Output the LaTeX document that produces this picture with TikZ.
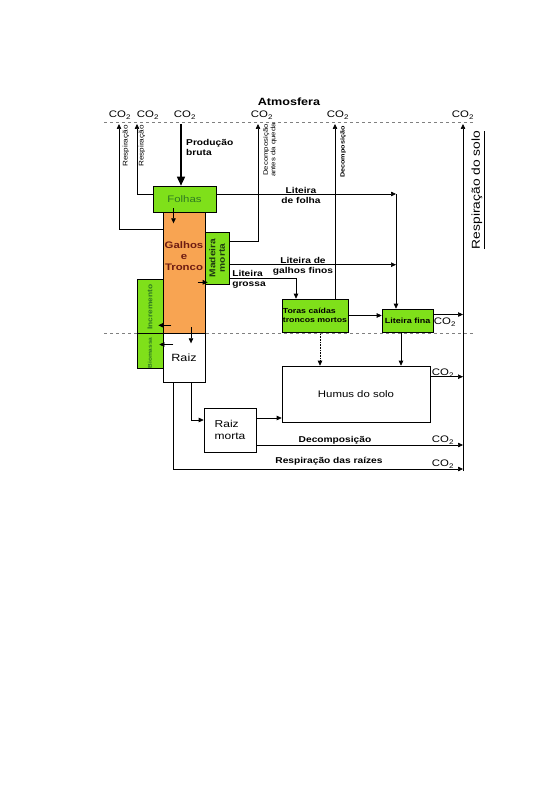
\documentclass[tikz,border=0pt]{standalone}
\usepackage{fontspec}
\setmainfont{Liberation Sans}[FakeStretch=1.2]
\usetikzlibrary{arrows.meta,positioning}
\definecolor{leafgreen}{HTML}{7FE01A}
\definecolor{barkorange}{HTML}{F8A452}
\definecolor{leaftext}{HTML}{2F7A22}
\definecolor{barktext}{HTML}{6E1C12}
\definecolor{woodtext}{HTML}{1E3A12}
\newcommand{\cotwo}{CO\textsubscript{2}}

\begin{document}
\begin{tikzpicture}[x=1pt,y=-1pt,
  pool/.style={draw, line width=0.6pt, inner sep=0pt},
  leafpool/.style={pool, fill=leafgreen},
  flow/.style={-{Triangle[length=5pt,width=4.5pt]}, line width=0.6pt},
  bigflow/.style={-{Triangle[length=9pt,width=8pt]}, line width=1.6pt},
  flux/.style={font=\bfseries\fontsize{8.5}{10}\selectfont, align=center, inner sep=0pt},
  vflux/.style={rotate=90, font=\fontsize{6.8}{7.5}\selectfont, align=center, inner sep=0pt},
  gas/.style={font=\fontsize{9.5}{9.5}\selectfont, inner sep=0pt},
  layer/.style={gray, dashed, line width=0.5pt}]
\useasboundingbox (0,0) rectangle (559,794);
% layers
\draw[layer] (104,122) -- (475,122);
\draw[layer] (104,333) -- (475,333);
\node[flux, font=\bfseries\fontsize{10.5}{11}\selectfont] (atm) at (289,102) {Atmosfera};
\foreach \n/\x/\tx in {a/120/119, b/148/137, c/185/181, d/262/258, e/338/335, f/463/463}{
  \node[gas] (co2\n) at (\x,115) {\cotwo};
  \coordinate (tip\n) at (\tx,124);
}
\coordinate (soilfoot) at (463,471);
\coordinate (join) at (396,194);
% pools
\node[leafpool, minimum width=63pt, minimum height=26pt, text=leaftext, font=\fontsize{9.5}{9.5}\selectfont] (folhas) at (184.5,199) {Folhas};
\node[pool, fill=barkorange, minimum width=42pt, minimum height=121pt] (galhos) at (184,272.5) {};
\node[flux, text=barktext, font=\bfseries\fontsize{9.5}{11}\selectfont] (galhostxt) at (184,256) {Galhos\\e\\Tronco};
\node[leafpool, minimum width=24pt, minimum height=52pt] (madeira) at (217,258) {};
\node[vflux, text=woodtext, font=\bfseries\fontsize{8.5}{9.5}\selectfont] (madeiratxt) at (madeira) {Madeira\\morta};
\node[leafpool, minimum width=26pt, minimum height=54pt] (incremento) at (150,306) {};
\node[vflux, text=leaftext, font=\bfseries\fontsize{7}{7}\selectfont] (incrementotxt) at (150,307) {Incremento};
\node[leafpool, minimum width=26pt, minimum height=35pt] (biomassa) at (150,350.5) {};
\node[vflux, text=leaftext, font=\bfseries\fontsize{5.5}{6}\selectfont] (biomassatxt) at (150,353) {Biomassa};
\node[pool, fill=white, minimum width=42pt, minimum height=49pt, font=\fontsize{10.5}{11}\selectfont] (raiz) at (184,357.5) {Raiz};
\node[leafpool, minimum width=66pt, minimum height=33pt, align=left, font=\bfseries\fontsize{7.3}{9}\selectfont] (toras) at (315,315.5) {Toras caídas\\troncos mortos};
\node[leafpool, minimum width=51pt, minimum height=23pt, font=\bfseries\fontsize{7.5}{8}\selectfont] (litfina) at (407.5,320.5) {Liteira fina};
\node[pool, minimum width=148pt, minimum height=56pt, font=\fontsize{9.5}{10}\selectfont] (humus) at (356,394) {Humus do solo};
\node[pool, minimum width=52pt, minimum height=44pt, align=left, font=\fontsize{10}{12}\selectfont] (raizmorta) at (230,430) {Raiz\\morta};
% fluxes to the atmosphere
\draw[flow] ([yshift=-18pt]galhos.north west) -| (tipa);
\draw[flow] ([yshift=5pt]folhas.west) -| (tipb);
\draw[bigflow] (tipc) -- (tipc |- folhas.north);
\draw[flow] ([yshift=-10pt]madeira.north east) -| (tipd);
\draw[flow] (tipe |- toras.north) -- (tipe);
\draw[flow] (soilfoot) -- (tipf);
\node[vflux] (resp1) at (126,146) {Respiração};
\node[vflux] (resp2) at (142,146) {Respiração};
\node[flux, align=left, anchor=west] (prod) at (186,147) {Produção\\bruta};
\node[vflux, font=\fontsize{6.5}{7.5}\selectfont] (decq) at (270,150) {Decomposição\\antes da queda};
\node[vflux, font=\bfseries\fontsize{6}{7}\selectfont] (dectoras) at (343,152) {Decomposição};
\node[rotate=90, inner sep=0pt, font=\fontsize{11.5}{12}\selectfont] (solo) at (478,190) {\underline{Respiração do solo}};
% internal transfers
\draw[flow] ([xshift=-11pt,yshift=4pt]folhas.south) -- ++(0,15);
\draw[flow] ([xshift=-7pt,yshift=2pt]madeira.south west) -- ([xshift=3pt,yshift=2pt]madeira.south west);
\draw[flow] ([xshift=8pt,yshift=8pt]incremento.south east) -- ++(-13,0);
\draw[flow] ([xshift=10pt,yshift=6pt]biomassa.east) -- ++(-14,0);
\draw[flow] ([xshift=7pt,yshift=6pt]galhos.south) -- ++(0,16);
\draw[flow] ([yshift=5pt]folhas.east) -- ([yshift=5pt]folhas.east -| join);
\draw[flow] ([yshift=-33pt]madeira.north east) -- ([yshift=-33pt]madeira.north east -| join);
\draw[flow] (join) -- (join |- litfina.north);
\draw[flow] ([yshift=6pt]madeira.south east) -| ([xshift=-19pt]toras.north);
\draw[flow] (toras.east) -- (toras.east -| litfina.west);
\draw[flow, densely dotted] ([xshift=5pt]toras.south) -- ([xshift=5pt]toras.south |- humus.north);
\draw[flow] ([xshift=-6.5pt]litfina.south) -- ([xshift=-6.5pt]litfina.south |- humus.north);
\draw[flow] ([xshift=7pt]raiz.south) |- ([yshift=10pt]raizmorta.west);
\draw[flow] ([yshift=12pt]raizmorta.east) -- ([yshift=12pt]raizmorta.east -| humus.west);
\node[flux] (litfolha) at (301,195) {Liteira\\de folha};
\node[flux] (litgalhos) at (303,266) {Liteira de\\galhos finos};
\node[flux, align=left] (litgrossa) at (249,279) {Liteira\\grossa};
% fluxes to the soil respiration line
\draw[flow] ([yshift=6pt]litfina.east) -- ([yshift=6pt]litfina.east -| soilfoot);
\draw[flow] ([yshift=-11pt]humus.north east) -- ([yshift=-11pt]humus.north east -| soilfoot);
\draw[flow] ([yshift=-15pt]raizmorta.east) -- ([yshift=-15pt]raizmorta.east -| soilfoot);
\draw[flow] ([xshift=-11pt]raiz.south) |- ([yshift=2pt]soilfoot);
\node[flux] (decomp) at (335,440) {Decomposição};
\node[flux] (respraiz) at (329,461) {Respiração das raízes};
\node[gas] (co2g) at (445,322) {\cotwo};
\node[gas] (co2h) at (443,373) {\cotwo};
\node[gas] (co2i) at (443,440) {\cotwo};
\node[gas] (co2j) at (443,464) {\cotwo};
\end{tikzpicture}
\end{document}
